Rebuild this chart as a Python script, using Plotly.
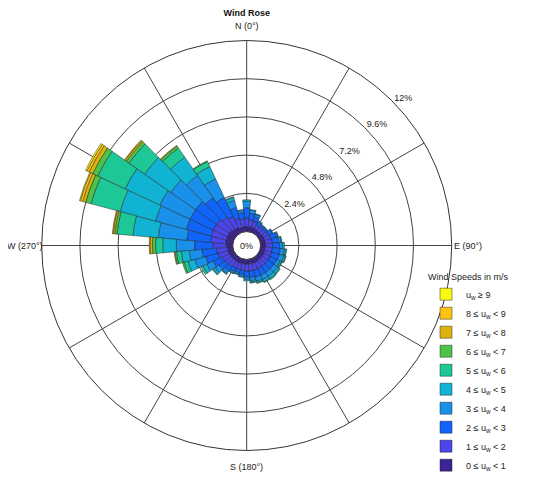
import plotly.graph_objects as go

# direction bin centres (deg, clockwise from north)
directions = [0, 10, 20, 30, 40, 50, 60, 70, 80, 90, 100, 110,
              120, 130, 140, 150, 160, 170, 180, 190, 200, 210, 220, 230,
              240, 250, 260, 270, 280, 290, 300, 310, 320, 330, 340, 350]

speed_labels = ["0 ≤ u<sub>w</sub> &lt; 1", "1 ≤ u<sub>w</sub> &lt; 2",
                "2 ≤ u<sub>w</sub> &lt; 3", "3 ≤ u<sub>w</sub> &lt; 4",
                "4 ≤ u<sub>w</sub> &lt; 5", "5 ≤ u<sub>w</sub> &lt; 6",
                "6 ≤ u<sub>w</sub> &lt; 7", "7 ≤ u<sub>w</sub> &lt; 8",
                "8 ≤ u<sub>w</sub> &lt; 9", "u<sub>w</sub> ≥ 9"]

# frequency (%) per direction for each speed class
freq_0_1 = [0.3, 0.3, 0.3, 0.25, 0.25, 0.25, 0.3, 0.3, 0.3, 0.3, 0.3, 0.3,
            0.3, 0.3, 0.3, 0.3, 0.3, 0.3, 0.3, 0.3, 0.3, 0.3, 0.3, 0.3,
            0.3, 0.35, 0.35, 0.4, 0.45, 0.45, 0.45, 0.45, 0.4, 0.35, 0.3, 0.3]
freq_1_2 = [0.55, 0.45, 0.4, 0.3, 0.3, 0.3, 0.35, 0.4, 0.45, 0.45, 0.45, 0.45,
            0.45, 0.45, 0.45, 0.45, 0.45, 0.45, 0.45, 0.4, 0.4, 0.4, 0.45, 0.5,
            0.55, 0.65, 0.7, 0.85, 0.95, 1.0, 1.0, 1.0, 0.9, 0.8, 0.6, 0.5]
freq_2_3 = [0.65, 0.4, 0.3, 0.2, 0.15, 0.15, 0.25, 0.35, 0.4, 0.45, 0.5, 0.5,
            0.45, 0.45, 0.45, 0.45, 0.45, 0.4, 0.35, 0.25, 0.2, 0.25, 0.35, 0.45,
            0.6, 0.8, 0.9, 1.15, 1.5, 1.6, 1.6, 1.6, 1.5, 1.3, 0.7, 0.4]
freq_3_4 = [0.4, 0.2, 0.15, 0.1, 0.05, 0.05, 0.05, 0.1, 0.15, 0.2, 0.25, 0.3,
            0.25, 0.3, 0.3, 0.3, 0.25, 0.2, 0.15, 0.12, 0.1, 0.1, 0.15, 0.3,
            0.45, 0.7, 0.8, 1.15, 1.8, 2.0, 2.1, 1.9, 1.7, 1.3, 0.45, 0.15]
freq_4_5 = [0.1, 0.05, 0.05, 0, 0, 0, 0, 0.05, 0.05, 0.1, 0.1, 0.1,
            0.1, 0.15, 0.17, 0.15, 0.1, 0.1, 0.1, 0.08, 0.05, 0.05, 0.07, 0.15,
            0.25, 0.45, 0.5, 0.85, 1.6, 2.3, 2.4, 2.0, 1.4, 0.85, 0.2, 0.05]
freq_5_6 = [0, 0, 0, 0, 0, 0, 0, 0, 0, 0, 0.05, 0.05,
            0.05, 0.05, 0.08, 0.05, 0.05, 0.05, 0, 0, 0, 0, 0.03, 0.05,
            0.15, 0.25, 0.3, 0.45, 1.0, 1.9, 1.9, 1.2, 0.7, 0.35, 0.05, 0]
freq_6_7 = [0, 0, 0, 0, 0, 0, 0, 0, 0, 0, 0, 0,
            0, 0, 0, 0, 0, 0, 0, 0, 0, 0, 0, 0,
            0, 0.1, 0.1, 0.2, 0.15, 0.35, 0.35, 0.2, 0.15, 0.05, 0, 0]
freq_7_8 = [0, 0, 0, 0, 0, 0, 0, 0, 0, 0, 0, 0,
            0, 0, 0, 0, 0, 0, 0, 0, 0, 0, 0, 0,
            0, 0, 0.05, 0.15, 0.1, 0.2, 0.25, 0.1, 0.05, 0, 0, 0]
freq_8_9 = [0, 0, 0, 0, 0, 0, 0, 0, 0, 0, 0, 0,
            0, 0, 0, 0, 0, 0, 0, 0, 0, 0, 0, 0,
            0, 0, 0, 0.05, 0.05, 0.15, 0.15, 0.05, 0, 0, 0, 0]
freq_9_up = [0, 0, 0, 0, 0, 0, 0, 0, 0, 0, 0, 0,
             0, 0, 0, 0, 0, 0, 0, 0, 0, 0, 0, 0,
             0, 0, 0, 0, 0, 0.05, 0.1, 0, 0, 0, 0, 0]

ring_values = [2.4, 4.8, 7.2, 9.6, 12]
ring_labels = ["2.4%", "4.8%", "7.2%", "9.6%", "12%"]

grid_angles = [0, 30, 60, 90, 120, 150, 180, 210, 240, 270, 300, 330]

colors = ["#3c2396", "#4b46eb", "#1064fa", "#1991eb", "#10b4d2",
          "#1ec896", "#4bc34b", "#dcb40f", "#ffc314", "#f8f814"]

all_freqs = [freq_0_1, freq_1_2, freq_2_3, freq_3_4, freq_4_5,
             freq_5_6, freq_6_7, freq_7_8, freq_8_9, freq_9_up]

FONT = "Liberation Sans, Arial, sans-serif"
FS = 9

fig = go.Figure()

for label, vals, col in zip(speed_labels, all_freqs, colors):
    fig.add_trace(go.Barpolar(
        r=vals,
        theta=directions,
        width=10,
        name=label,
        marker=dict(color=col, line=dict(color="rgba(30,30,30,0.75)", width=0.6)),
        hoverinfo="skip",
    ))

# frequency ring labels
fig.add_trace(go.Scatterpolar(
    r=ring_values,
    theta=[46] * len(ring_values),
    text=ring_labels,
    mode="text",
    textposition="top right",
    textfont=dict(family=FONT, size=FS, color="#222"),
    showlegend=False,
    hoverinfo="skip",
))

# page body adds an 8px offset, so the figure is a bit smaller than the window
W, H = 542, 472
cx, cy, R = 238.7, 237.5, 205


def px(x):
    return x / W


def py(y):
    return 1 - y / H


lab_font = dict(family=FONT, size=FS, color="#222")
annotations = [
    dict(text="0%", x=px(cx), y=py(cy), xanchor="center", yanchor="middle"),
    dict(text="N (0°)", x=px(cx), y=py(cy - R - 14), xanchor="center", yanchor="middle"),
    dict(text="S (180°)", x=px(cx), y=py(cy + R + 16), xanchor="center", yanchor="middle"),
    dict(text="E (90°)", x=px(cx + R + 1), y=py(cy), xanchor="left", yanchor="middle"),
    dict(text="W (270°)", x=px(cx - R + 2), y=py(cy), xanchor="right", yanchor="middle"),
]
for a in annotations:
    a.update(xref="paper", yref="paper", showarrow=False, font=lab_font, borderpad=0)

fig.update_layout(
    width=W, height=H,
    margin=dict(l=0, r=0, t=0, b=0, autoexpand=False),
    paper_bgcolor="white",
    font=dict(family=FONT, size=FS, color="#222"),
    title=dict(text="<b>Wind Rose</b>", x=px(cx), xanchor="center",
               y=py(5), yanchor="middle",
               font=dict(family=FONT, size=FS, color="#111")),
    polar=dict(
        domain=dict(x=[px(cx - R), px(cx + R)],
                    y=[py(cy + R), py(cy - R)]),
        bgcolor="white",
        hole=0.068,
        barmode="stack",
        bargap=0,
        angularaxis=dict(
            rotation=90, direction="clockwise",
            tickmode="array", tickvals=grid_angles, showticklabels=False,
            ticks="", showline=True, linecolor="#333", linewidth=1,
            showgrid=True, gridcolor="#444", gridwidth=0.8,
        ),
        radialaxis=dict(
            range=[0, 12], tickmode="array", tickvals=ring_values,
            showticklabels=False, ticks="", showline=False,
            showgrid=True, gridcolor="#444", gridwidth=0.8,
        ),
    ),
    legend=dict(
        x=px(418), y=0.0, xanchor="left", yanchor="bottom",
        traceorder="reversed",
        title=dict(text="Wind Speeds in m/s", font=dict(family=FONT, size=FS)),
        font=dict(family=FONT, size=FS, color="#222"),
        bgcolor="rgba(0,0,0,0)",
        itemclick=False,
    ),
    annotations=annotations,
)

fig.write_html("out.html")
